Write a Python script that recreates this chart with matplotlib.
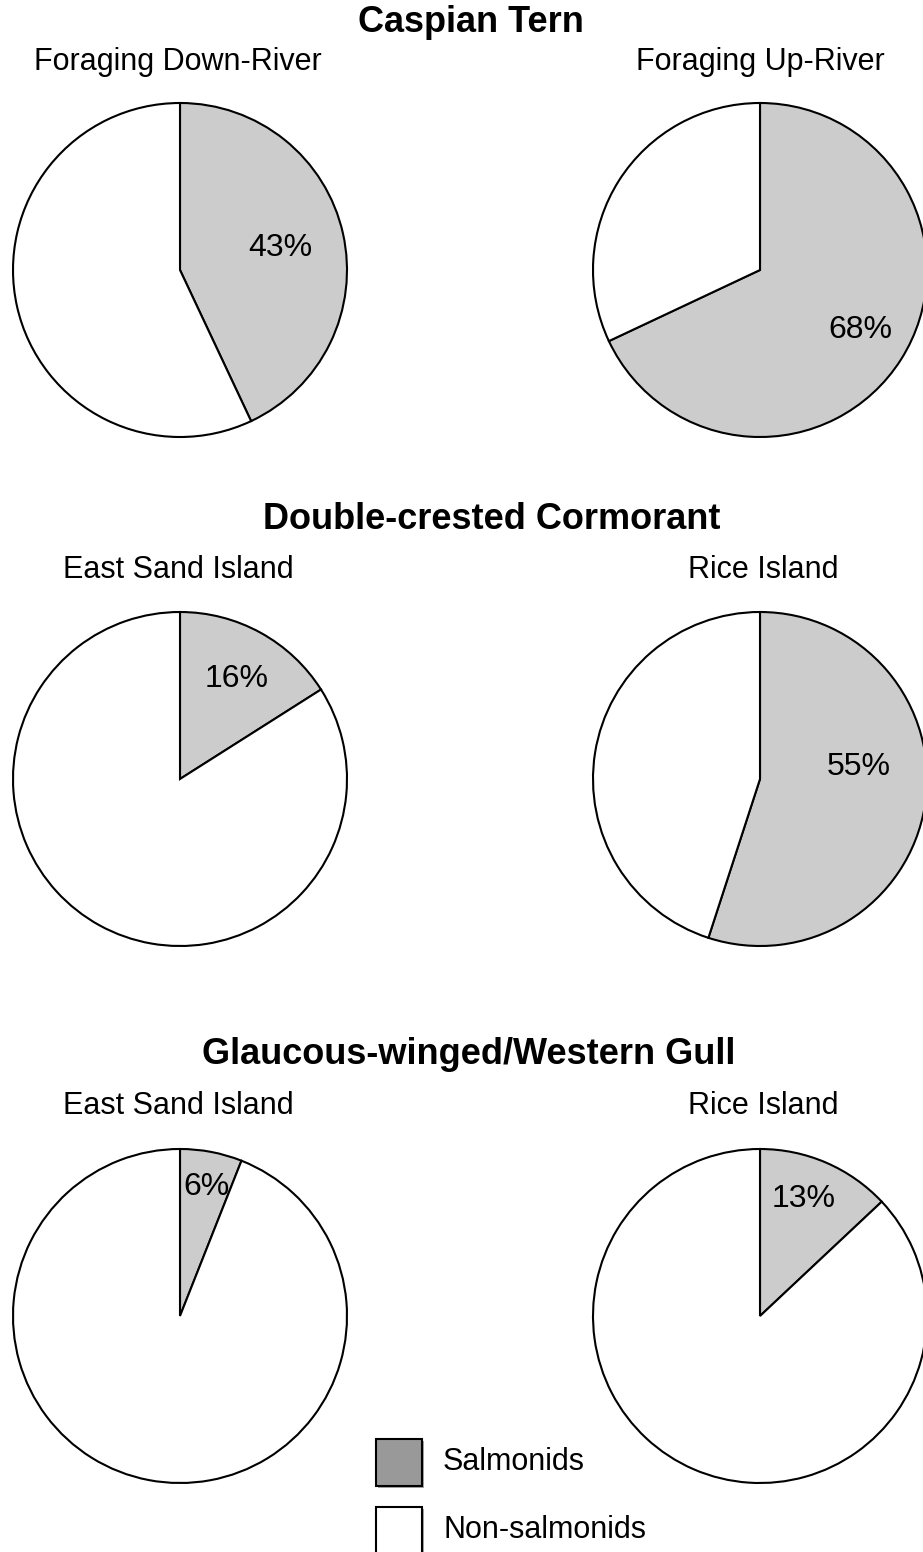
import matplotlib
matplotlib.use("Agg")
import matplotlib.pyplot as plt
from matplotlib.patches import Rectangle
import matplotlib.patheffects as pe

plt.rcParams["font.family"] = ["Liberation Sans", "DejaVu Sans"]

# Data: percent of salmonids in diet
groups = ["Caspian Tern", "Double-crested Cormorant", "Glaucous-winged/Western Gull"]
sites = [["Foraging Down-River", "Foraging Up-River"],
         ["East Sand Island", "Rice Island"],
         ["East Sand Island", "Rice Island"]]
salmonid_pct = [[43, 68], [16, 55], [6, 13]]
legend_labels = ["Salmonids", "Non-salmonids"]
legend_colors = ["#999999", "white"]

# label positions inside each pie (pie radius units, relative to centre)
label_pos = [[(0.60, 0.13), (0.60, -0.36)],
             [(0.34, 0.60), (0.59, 0.07)],
             [(0.16, 0.77), (0.26, 0.70)]]

W, H = 923, 1552
fig = plt.figure(figsize=(W / 100, H / 100), dpi=100)

# layout in pixels
col_x = [180, 760]
row_y = [270, 779, 1316]
r = 167
pad = 1.03
title_y = [22, 520, 1055]
title_x = [471, 492, 469]
sub_y = [62, 570, 1106]
sub_x = [[178, 760], [178, 763], [178, 763]]

for i in range(3):
    fig.text(title_x[i] / W, 1 - title_y[i] / H, groups[i], ha="center", va="center",
             fontsize=26, fontweight="bold")
    for j in range(2):
        cx, cy = col_x[j], row_y[i]
        ax = fig.add_axes([(cx - r * pad) / W, 1 - (cy + r * pad) / H,
                           2 * r * pad / W, 2 * r * pad / H])
        p = salmonid_pct[i][j]
        ax.pie([p, 100 - p], colors=["#cccccc", "white"], startangle=90,
               counterclock=False,
               wedgeprops=dict(edgecolor="black", linewidth=1.5))
        ax.set_xlim(-pad, pad)
        ax.set_ylim(-pad, pad)
        ax.set_aspect("equal")
        lx, ly = label_pos[i][j]
        ax.text(lx, ly, f"{p}%", ha="center", va="center", fontsize=23)
        fig.text(sub_x[i][j] / W, 1 - sub_y[i] / H, sites[i][j], ha="center",
                 va="center", fontsize=22)

# Legend (drawn by hand to match the boxed swatches with a drop shadow)
shadow = [pe.SimplePatchShadow(offset=(1.5, -1.5), shadow_rgbFace="gray", alpha=0.7),
          pe.Normal()]
leg_x, leg_y0, box = 376, 1439, 47
row_step = 68
for k, (lab, col) in enumerate(zip(legend_labels, legend_colors)):
    top = leg_y0 + k * row_step
    rect = Rectangle((leg_x / W, 1 - (top + box) / H), 46 / W, box / H,
                     transform=fig.transFigure, facecolor=col, edgecolor="black",
                     linewidth=1.5, path_effects=shadow)
    fig.add_artist(rect)
    fig.text(443 / W, 1 - (top + box / 2) / H, lab, ha="left", va="center",
             fontsize=22)

fig.savefig("out.png", dpi=100)
